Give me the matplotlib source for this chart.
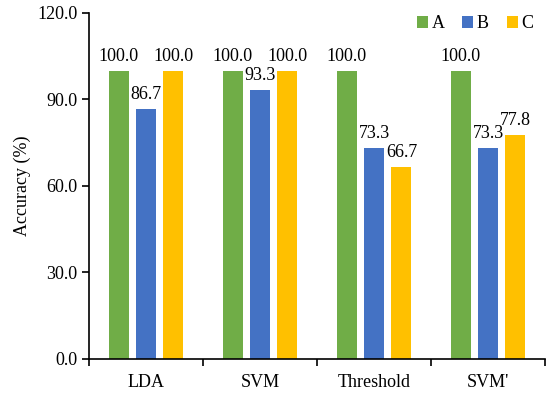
import matplotlib.pyplot as plt
import numpy as np

plt.rcParams['font.family'] = ['Liberation Serif', 'DejaVu Serif']

methods = ["LDA", "SVM", "Threshold", "SVM'"]
series = ["A", "B", "C"]
acc_a = [100.0, 100.0, 100.0, 100.0]
acc_b = [86.7, 93.3, 73.3, 73.3]
acc_c = [100.0, 100.0, 66.7, 77.8]
colors = ["#70AD47", "#4472C4", "#FFC000"]

fig = plt.figure(figsize=(5.5, 3.93), dpi=100)
ax = fig.add_axes([0.162, 0.087, 0.829, 0.88])

x = np.arange(len(methods))
w = 0.175
offs = [-0.24, 0, 0.24]
for vals, name, c, o in zip([acc_a, acc_b, acc_c], series, colors, offs):
    bars = ax.bar(x + o, vals, w, color=c, label=name)
    for b, v in zip(bars, vals):
        ax.text(b.get_x() + b.get_width() / 2, v + 2, f"{v:.1f}",
                ha="center", va="bottom", fontsize=13)

ax.set_xlim(-0.5, len(methods) - 0.5)
ax.set_ylim(0, 120)
ax.set_yticks(np.arange(0, 121, 30))
ax.set_yticklabels([f"{t:.1f}" for t in np.arange(0, 121, 30)])
ax.set_xticks(x)
ax.set_xticklabels(methods)
ax.set_xticks(np.arange(-0.5, len(methods)), minor=True)
ax.tick_params(axis="x", which="major", length=0, pad=11, labelsize=13)
ax.tick_params(axis="x", which="minor", length=5, width=1.2, direction="out")
ax.tick_params(axis="y", length=5, width=1.2, labelsize=13)
for s in ["top", "right"]:
    ax.spines[s].set_visible(False)
for s in ["left", "bottom"]:
    ax.spines[s].set_linewidth(1.2)
ax.set_ylabel("Accuracy (%)", fontsize=13)

ax.legend(loc="upper right", ncol=3, frameon=False, fontsize=13,
          handlelength=0.6, handleheight=0.6, handletextpad=0.2,
          columnspacing=1.0, bbox_to_anchor=(1.01, 1.04))

fig.savefig("out.png", dpi=100)
